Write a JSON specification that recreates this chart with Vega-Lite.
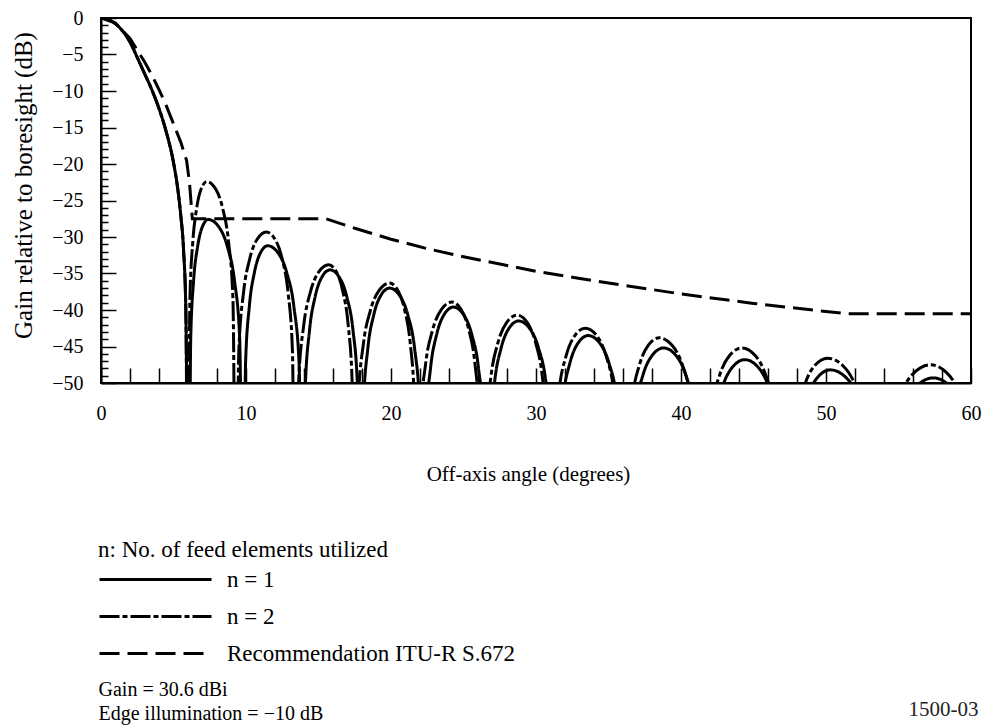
{
  "$schema": "https://vega.github.io/schema/vega-lite/v6.json",
  "width": 870,
  "height": 365,
  "autosize": {"type": "none"},
  "padding": {"left": 101, "top": 18, "right": 15, "bottom": 343},
  "background": "white",
  "config": {
    "font": "Liberation Serif",
    "view": {"stroke": "black", "strokeWidth": 2},
    "axis": {
      "labelFont": "Liberation Serif", "titleFont": "Liberation Serif",
      "labelColor": "black", "titleColor": "black", "titleFontWeight": "normal",
      "labelFontSize": 20, "titleFontSize": 21, "domainColor": "black",
      "tickColor": "black", "grid": false
    }
  },
  "datasets": {
    "patterns": [
      {"series": "n = 1", "angle": 0, "gain": 0}, {"series": "n = 1", "angle": 0.5, "gain": -0.2}, {"series": "n = 1", "angle": 1, "gain": -0.8}, {"series": "n = 1", "angle": 1.5, "gain": -1.8}, {"series": "n = 1", "angle": 2, "gain": -3.3}, {"series": "n = 1", "angle": 2.5, "gain": -5.4}, {"series": "n = 1", "angle": 3, "gain": -7.6}, {"series": "n = 1", "angle": 3.5, "gain": -9.8}, {"series": "n = 1", "angle": 4, "gain": -12.4}, {"series": "n = 1", "angle": 4.5, "gain": -15.6}, {"series": "n = 1", "angle": 5, "gain": -19.8}, {"series": "n = 1", "angle": 5.3, "gain": -23.5}, {"series": "n = 1", "angle": 5.5, "gain": -27}, {"series": "n = 1", "angle": 5.7, "gain": -32}, {"series": "n = 1", "angle": 5.85, "gain": -40}, {"series": "n = 1", "angle": 6.05, "gain": -75},
      {"series": "n = 1", "angle": 6.19, "gain": -43.7}, {"series": "n = 1", "angle": 6.39, "gain": -35.9}, {"series": "n = 1", "angle": 6.66, "gain": -31.35}, {"series": "n = 1", "angle": 6.99, "gain": -28.6}, {"series": "n = 1", "angle": 7.4, "gain": -27.6}, {"series": "n = 1", "angle": 8.12, "gain": -28.6}, {"series": "n = 1", "angle": 8.72, "gain": -31.35}, {"series": "n = 1", "angle": 9.2, "gain": -35.9}, {"series": "n = 1", "angle": 9.56, "gain": -43.7}, {"series": "n = 1", "angle": 9.8, "gain": -75},
      {"series": "n = 1", "angle": 9.97, "gain": -47.3}, {"series": "n = 1", "angle": 10.23, "gain": -39.5}, {"series": "n = 1", "angle": 10.57, "gain": -34.95}, {"series": "n = 1", "angle": 10.99, "gain": -32.2}, {"series": "n = 1", "angle": 11.5, "gain": -31.2}, {"series": "n = 1", "angle": 12.22, "gain": -32.2}, {"series": "n = 1", "angle": 12.82, "gain": -34.95}, {"series": "n = 1", "angle": 13.3, "gain": -39.5}, {"series": "n = 1", "angle": 13.66, "gain": -47.3}, {"series": "n = 1", "angle": 13.9, "gain": -75},
      {"series": "n = 1", "angle": 14.09, "gain": -50.6}, {"series": "n = 1", "angle": 14.38, "gain": -42.8}, {"series": "n = 1", "angle": 14.76, "gain": -38.25}, {"series": "n = 1", "angle": 15.23, "gain": -35.5}, {"series": "n = 1", "angle": 15.8, "gain": -34.5}, {"series": "n = 1", "angle": 16.43, "gain": -35.5}, {"series": "n = 1", "angle": 16.96, "gain": -38.25}, {"series": "n = 1", "angle": 17.38, "gain": -42.8}, {"series": "n = 1", "angle": 17.69, "gain": -50.6}, {"series": "n = 1", "angle": 17.9, "gain": -75},
      {"series": "n = 1", "angle": 18.1, "gain": -53.1}, {"series": "n = 1", "angle": 18.4, "gain": -45.3}, {"series": "n = 1", "angle": 18.8, "gain": -40.75}, {"series": "n = 1", "angle": 19.3, "gain": -38}, {"series": "n = 1", "angle": 19.9, "gain": -37}, {"series": "n = 1", "angle": 20.59, "gain": -38}, {"series": "n = 1", "angle": 21.17, "gain": -40.75}, {"series": "n = 1", "angle": 21.63, "gain": -45.3}, {"series": "n = 1", "angle": 21.97, "gain": -53.1}, {"series": "n = 1", "angle": 22.2, "gain": -75},
      {"series": "n = 1", "angle": 22.41, "gain": -55.7}, {"series": "n = 1", "angle": 22.73, "gain": -47.9}, {"series": "n = 1", "angle": 23.15, "gain": -43.35}, {"series": "n = 1", "angle": 23.67, "gain": -40.6}, {"series": "n = 1", "angle": 24.3, "gain": -39.6}, {"series": "n = 1", "angle": 24.99, "gain": -40.6}, {"series": "n = 1", "angle": 25.57, "gain": -43.35}, {"series": "n = 1", "angle": 26.03, "gain": -47.9}, {"series": "n = 1", "angle": 26.37, "gain": -55.7}, {"series": "n = 1", "angle": 26.6, "gain": -75},
      {"series": "n = 1", "angle": 26.82, "gain": -57.6}, {"series": "n = 1", "angle": 27.15, "gain": -49.8}, {"series": "n = 1", "angle": 27.59, "gain": -45.25}, {"series": "n = 1", "angle": 28.14, "gain": -42.5}, {"series": "n = 1", "angle": 28.8, "gain": -41.5}, {"series": "n = 1", "angle": 29.55, "gain": -42.5}, {"series": "n = 1", "angle": 30.18, "gain": -45.25}, {"series": "n = 1", "angle": 30.68, "gain": -49.8}, {"series": "n = 1", "angle": 31.05, "gain": -57.6}, {"series": "n = 1", "angle": 31.3, "gain": -75},
      {"series": "n = 1", "angle": 31.53, "gain": -59.6}, {"series": "n = 1", "angle": 31.88, "gain": -51.8}, {"series": "n = 1", "angle": 32.34, "gain": -47.25}, {"series": "n = 1", "angle": 32.91, "gain": -44.5}, {"series": "n = 1", "angle": 33.6, "gain": -43.5}, {"series": "n = 1", "angle": 34.38, "gain": -44.5}, {"series": "n = 1", "angle": 35.03, "gain": -47.25}, {"series": "n = 1", "angle": 35.55, "gain": -51.8}, {"series": "n = 1", "angle": 35.94, "gain": -59.6}, {"series": "n = 1", "angle": 36.2, "gain": -75},
      {"series": "n = 1", "angle": 36.46, "gain": -61.3}, {"series": "n = 1", "angle": 36.85, "gain": -53.5}, {"series": "n = 1", "angle": 37.37, "gain": -48.95}, {"series": "n = 1", "angle": 38.02, "gain": -46.2}, {"series": "n = 1", "angle": 38.8, "gain": -45.2}, {"series": "n = 1", "angle": 39.64, "gain": -46.2}, {"series": "n = 1", "angle": 40.34, "gain": -48.95}, {"series": "n = 1", "angle": 40.9, "gain": -53.5}, {"series": "n = 1", "angle": 41.32, "gain": -61.3}, {"series": "n = 1", "angle": 41.6, "gain": -75},
      {"series": "n = 1", "angle": 41.88, "gain": -62.9}, {"series": "n = 1", "angle": 42.3, "gain": -55.1}, {"series": "n = 1", "angle": 42.86, "gain": -50.55}, {"series": "n = 1", "angle": 43.56, "gain": -47.8}, {"series": "n = 1", "angle": 44.4, "gain": -46.8}, {"series": "n = 1", "angle": 45.3, "gain": -47.8}, {"series": "n = 1", "angle": 46.05, "gain": -50.55}, {"series": "n = 1", "angle": 46.65, "gain": -55.1}, {"series": "n = 1", "angle": 47.1, "gain": -62.9}, {"series": "n = 1", "angle": 47.4, "gain": -75},
      {"series": "n = 1", "angle": 47.69, "gain": -64.3}, {"series": "n = 1", "angle": 48.13, "gain": -56.5}, {"series": "n = 1", "angle": 48.71, "gain": -51.95}, {"series": "n = 1", "angle": 49.43, "gain": -49.2}, {"series": "n = 1", "angle": 50.3, "gain": -48.2}, {"series": "n = 1", "angle": 51.35, "gain": -49.2}, {"series": "n = 1", "angle": 52.23, "gain": -51.95}, {"series": "n = 1", "angle": 52.93, "gain": -56.5}, {"series": "n = 1", "angle": 53.45, "gain": -64.3}, {"series": "n = 1", "angle": 53.8, "gain": -75},
      {"series": "n = 1", "angle": 54.16, "gain": -65.4}, {"series": "n = 1", "angle": 54.7, "gain": -57.6}, {"series": "n = 1", "angle": 55.42, "gain": -53.05}, {"series": "n = 1", "angle": 56.32, "gain": -50.3}, {"series": "n = 1", "angle": 57.4, "gain": -49.3}, {"series": "n = 1", "angle": 58.48, "gain": -50.3}, {"series": "n = 1", "angle": 59.38, "gain": -53.05}, {"series": "n = 1", "angle": 59.92, "gain": -57.6},

      {"series": "n = 2", "angle": 0, "gain": 0}, {"series": "n = 2", "angle": 0.5, "gain": -0.2}, {"series": "n = 2", "angle": 1, "gain": -0.8}, {"series": "n = 2", "angle": 1.5, "gain": -1.8}, {"series": "n = 2", "angle": 2, "gain": -3.3}, {"series": "n = 2", "angle": 2.5, "gain": -5.4}, {"series": "n = 2", "angle": 3, "gain": -7.6}, {"series": "n = 2", "angle": 3.5, "gain": -9.8}, {"series": "n = 2", "angle": 4, "gain": -12.4}, {"series": "n = 2", "angle": 4.5, "gain": -15.6}, {"series": "n = 2", "angle": 5, "gain": -19.8}, {"series": "n = 2", "angle": 5.3, "gain": -23.5}, {"series": "n = 2", "angle": 5.5, "gain": -27}, {"series": "n = 2", "angle": 5.7, "gain": -32}, {"series": "n = 2", "angle": 5.85, "gain": -40}, {"series": "n = 2", "angle": 6.0, "gain": -75},
      {"series": "n = 2", "angle": 6.13, "gain": -38.5}, {"series": "n = 2", "angle": 6.33, "gain": -30.7}, {"series": "n = 2", "angle": 6.59, "gain": -26.15}, {"series": "n = 2", "angle": 6.91, "gain": -23.4}, {"series": "n = 2", "angle": 7.3, "gain": -22.4}, {"series": "n = 2", "angle": 7.9, "gain": -23.4}, {"series": "n = 2", "angle": 8.4, "gain": -26.15}, {"series": "n = 2", "angle": 8.8, "gain": -30.7}, {"series": "n = 2", "angle": 9.1, "gain": -38.5}, {"series": "n = 2", "angle": 9.3, "gain": -75},
      {"series": "n = 2", "angle": 9.51, "gain": -45.4}, {"series": "n = 2", "angle": 9.83, "gain": -37.6}, {"series": "n = 2", "angle": 10.25, "gain": -33.05}, {"series": "n = 2", "angle": 10.77, "gain": -30.3}, {"series": "n = 2", "angle": 11.4, "gain": -29.3}, {"series": "n = 2", "angle": 12.0, "gain": -30.3}, {"series": "n = 2", "angle": 12.5, "gain": -33.05}, {"series": "n = 2", "angle": 12.9, "gain": -37.6}, {"series": "n = 2", "angle": 13.2, "gain": -45.4}, {"series": "n = 2", "angle": 13.4, "gain": -75},
      {"series": "n = 2", "angle": 13.63, "gain": -49.9}, {"series": "n = 2", "angle": 13.98, "gain": -42.1}, {"series": "n = 2", "angle": 14.44, "gain": -37.55}, {"series": "n = 2", "angle": 15.01, "gain": -34.8}, {"series": "n = 2", "angle": 15.7, "gain": -33.8}, {"series": "n = 2", "angle": 16.24, "gain": -34.8}, {"series": "n = 2", "angle": 16.69, "gain": -37.55}, {"series": "n = 2", "angle": 17.05, "gain": -42.1}, {"series": "n = 2", "angle": 17.32, "gain": -49.9}, {"series": "n = 2", "angle": 17.5, "gain": -75},
      {"series": "n = 2", "angle": 17.74, "gain": -52.4}, {"series": "n = 2", "angle": 18.1, "gain": -44.6}, {"series": "n = 2", "angle": 18.58, "gain": -40.05}, {"series": "n = 2", "angle": 19.18, "gain": -37.3}, {"series": "n = 2", "angle": 19.9, "gain": -36.3}, {"series": "n = 2", "angle": 20.47, "gain": -37.3}, {"series": "n = 2", "angle": 20.95, "gain": -40.05}, {"series": "n = 2", "angle": 21.33, "gain": -44.6}, {"series": "n = 2", "angle": 21.61, "gain": -52.4}, {"series": "n = 2", "angle": 21.8, "gain": -75},
      {"series": "n = 2", "angle": 22.04, "gain": -55}, {"series": "n = 2", "angle": 22.4, "gain": -47.2}, {"series": "n = 2", "angle": 22.88, "gain": -42.65}, {"series": "n = 2", "angle": 23.48, "gain": -39.9}, {"series": "n = 2", "angle": 24.2, "gain": -38.9}, {"series": "n = 2", "angle": 24.83, "gain": -39.9}, {"series": "n = 2", "angle": 25.36, "gain": -42.65}, {"series": "n = 2", "angle": 25.78, "gain": -47.2}, {"series": "n = 2", "angle": 26.09, "gain": -55}, {"series": "n = 2", "angle": 26.3, "gain": -75},
      {"series": "n = 2", "angle": 26.54, "gain": -56.8}, {"series": "n = 2", "angle": 26.9, "gain": -49}, {"series": "n = 2", "angle": 27.38, "gain": -44.45}, {"series": "n = 2", "angle": 27.98, "gain": -41.7}, {"series": "n = 2", "angle": 28.7, "gain": -40.7}, {"series": "n = 2", "angle": 29.39, "gain": -41.7}, {"series": "n = 2", "angle": 29.97, "gain": -44.45}, {"series": "n = 2", "angle": 30.43, "gain": -49}, {"series": "n = 2", "angle": 30.77, "gain": -56.8}, {"series": "n = 2", "angle": 31.0, "gain": -75},
      {"series": "n = 2", "angle": 31.24, "gain": -58.6}, {"series": "n = 2", "angle": 31.6, "gain": -50.8}, {"series": "n = 2", "angle": 32.08, "gain": -46.25}, {"series": "n = 2", "angle": 32.68, "gain": -43.5}, {"series": "n = 2", "angle": 33.4, "gain": -42.5}, {"series": "n = 2", "angle": 34.18, "gain": -43.5}, {"series": "n = 2", "angle": 34.83, "gain": -46.25}, {"series": "n = 2", "angle": 35.35, "gain": -50.8}, {"series": "n = 2", "angle": 35.74, "gain": -58.6}, {"series": "n = 2", "angle": 36.0, "gain": -75},
      {"series": "n = 2", "angle": 36.25, "gain": -59.9}, {"series": "n = 2", "angle": 36.63, "gain": -52.1}, {"series": "n = 2", "angle": 37.13, "gain": -47.55}, {"series": "n = 2", "angle": 37.75, "gain": -44.8}, {"series": "n = 2", "angle": 38.5, "gain": -43.8}, {"series": "n = 2", "angle": 39.37, "gain": -44.8}, {"series": "n = 2", "angle": 40.1, "gain": -47.55}, {"series": "n = 2", "angle": 40.68, "gain": -52.1}, {"series": "n = 2", "angle": 41.11, "gain": -59.9}, {"series": "n = 2", "angle": 41.4, "gain": -75},
      {"series": "n = 2", "angle": 41.68, "gain": -61.3}, {"series": "n = 2", "angle": 42.1, "gain": -53.5}, {"series": "n = 2", "angle": 42.66, "gain": -48.95}, {"series": "n = 2", "angle": 43.36, "gain": -46.2}, {"series": "n = 2", "angle": 44.2, "gain": -45.2}, {"series": "n = 2", "angle": 45.1, "gain": -46.2}, {"series": "n = 2", "angle": 45.85, "gain": -48.95}, {"series": "n = 2", "angle": 46.45, "gain": -53.5}, {"series": "n = 2", "angle": 46.9, "gain": -61.3}, {"series": "n = 2", "angle": 47.2, "gain": -75},
      {"series": "n = 2", "angle": 47.49, "gain": -62.7}, {"series": "n = 2", "angle": 47.93, "gain": -54.9}, {"series": "n = 2", "angle": 48.51, "gain": -50.35}, {"series": "n = 2", "angle": 49.23, "gain": -47.6}, {"series": "n = 2", "angle": 50.1, "gain": -46.6}, {"series": "n = 2", "angle": 51.15, "gain": -47.6}, {"series": "n = 2", "angle": 52.03, "gain": -50.35}, {"series": "n = 2", "angle": 52.73, "gain": -54.9}, {"series": "n = 2", "angle": 53.25, "gain": -62.7}, {"series": "n = 2", "angle": 53.6, "gain": -75},
      {"series": "n = 2", "angle": 53.96, "gain": -63.6}, {"series": "n = 2", "angle": 54.5, "gain": -55.8}, {"series": "n = 2", "angle": 55.22, "gain": -51.25}, {"series": "n = 2", "angle": 56.12, "gain": -48.5}, {"series": "n = 2", "angle": 57.2, "gain": -47.5}, {"series": "n = 2", "angle": 58.28, "gain": -48.5}, {"series": "n = 2", "angle": 59.18, "gain": -51.25}, {"series": "n = 2", "angle": 59.9, "gain": -55.8}
    ],
    "s672": [
      {"series": "Recommendation ITU-R S.672", "angle": 0, "gain": 0},
      {"series": "Recommendation ITU-R S.672", "angle": 1, "gain": -0.7},
      {"series": "Recommendation ITU-R S.672", "angle": 2, "gain": -2.8},
      {"series": "Recommendation ITU-R S.672", "angle": 3, "gain": -6},
      {"series": "Recommendation ITU-R S.672", "angle": 3.5, "gain": -7.8},
      {"series": "Recommendation ITU-R S.672", "angle": 4, "gain": -9.8},
      {"series": "Recommendation ITU-R S.672", "angle": 4.5, "gain": -12},
      {"series": "Recommendation ITU-R S.672", "angle": 5, "gain": -14.5},
      {"series": "Recommendation ITU-R S.672", "angle": 5.5, "gain": -17},
      {"series": "Recommendation ITU-R S.672", "angle": 5.9, "gain": -19.5},
      {"series": "Recommendation ITU-R S.672", "angle": 6.1, "gain": -22.5},
      {"series": "Recommendation ITU-R S.672", "angle": 6.3, "gain": -27.5},
      {"series": "Recommendation ITU-R S.672", "angle": 15.5, "gain": -27.5},
      {"series": "Recommendation ITU-R S.672", "angle": 17.5, "gain": -28.8},
      {"series": "Recommendation ITU-R S.672", "angle": 20, "gain": -30.3},
      {"series": "Recommendation ITU-R S.672", "angle": 22.5, "gain": -31.6},
      {"series": "Recommendation ITU-R S.672", "angle": 25, "gain": -32.7},
      {"series": "Recommendation ITU-R S.672", "angle": 27.5, "gain": -33.7},
      {"series": "Recommendation ITU-R S.672", "angle": 30, "gain": -34.7},
      {"series": "Recommendation ITU-R S.672", "angle": 32.5, "gain": -35.5},
      {"series": "Recommendation ITU-R S.672", "angle": 35, "gain": -36.3},
      {"series": "Recommendation ITU-R S.672", "angle": 40, "gain": -37.8},
      {"series": "Recommendation ITU-R S.672", "angle": 45, "gain": -39.1},
      {"series": "Recommendation ITU-R S.672", "angle": 50, "gain": -40.2},
      {"series": "Recommendation ITU-R S.672", "angle": 51.5, "gain": -40.5},
      {"series": "Recommendation ITU-R S.672", "angle": 60, "gain": -40.5}
    ]
  },
  "layer": [
    {
      "data": {"name": "patterns"},
      "mark": {"type": "line", "clip": true, "strokeWidth": 3, "color": "black", "interpolate": "monotone"},
      "encoding": {
        "x": {
          "field": "angle", "type": "quantitative",
          "scale": {"domain": [0, 60], "nice": false, "zero": false},
          "axis": {
            "orient": "bottom",
            "values": [0, 2, 4, 6, 8, 10, 12, 14, 16, 18, 20, 22, 24, 26, 28, 30, 32, 34, 36, 38, 40, 42, 44, 46, 48, 50, 52, 54, 56, 58, 60],
            "labelExpr": "datum.value % 10 === 0 ? datum.label : ''",
            "tickSize": -15, "tickWidth": 1.5, "labelPadding": 35,
            "domainWidth": 2, "labelFlush": false, "labelOverlap": false, "labelBound": false,
            "title": "Off-axis angle (degrees)", "titleX": 427, "titleY": 80, "titleBaseline": "top", "titleAlign": "center"
          }
        },
        "y": {
          "field": "gain", "type": "quantitative",
          "scale": {"domain": [-50, 0], "nice": false, "zero": false},
          "axis": {
            "orient": "left",
            "values": [-50, -49, -48, -47, -46, -45, -44, -43, -42, -41, -40, -39, -38, -37, -36, -35, -34, -33, -32, -31, -30, -29, -28, -27, -26, -25, -24, -23, -22, -21, -20, -19, -18, -17, -16, -15, -14, -13, -12, -11, -10, -9, -8, -7, -6, -5, -4, -3, -2, -1, 0],
            "labelExpr": "datum.value % 5 === 0 ? datum.label : ''",
            "tickSize": {"condition": {"test": "datum.value % 5 === 0", "value": -15}, "value": -7},
            "tickWidth": 1.5, "labelPadding": 33,
            "domainWidth": 2, "labelFlush": false, "labelOverlap": false, "labelBound": false,
            "title": "Gain relative to boresight (dB)", "titleFontSize": 25, "titleX": -78, "titleY": 167, "titleBaseline": "middle", "titleAlign": "center", "titleAngle": -90
          }
        },
        "strokeDash": {
          "field": "series", "type": "nominal",
          "scale": {"domain": ["n = 1", "n = 2", "Recommendation ITU-R S.672"], "range": [[1, 0], [20, 3, 5, 3], [20, 8]]},
          "legend": {
            "title": "n: No. of feed elements utilized",
            "orient": "none", "legendX": -3, "legendY": 521, "direction": "vertical",
            "symbolType": "stroke", "symbolSize": 12544, "symbolStrokeWidth": 3, "symbolStrokeColor": "black",
            "labelFont": "Liberation Serif", "labelFontSize": 23, "labelColor": "black", "labelOffset": 14, "labelLimit": 600,
            "titleFont": "Liberation Serif", "titleFontSize": 23, "titleFontWeight": "normal", "titleColor": "black", "titleLimit": 600,
            "clipHeight": 35, "titlePadding": 0, "rowPadding": 2, "padding": 0
          }
        }
      }
    },
    {
      "data": {"name": "s672"},
      "mark": {"type": "line", "clip": true, "strokeWidth": 3, "color": "black"},
      "encoding": {
        "x": {
          "field": "angle", "type": "quantitative",
          "axis": {
            "orient": "bottom", "domain": false, "ticks": false, "labels": false, "grid": false,
            "title": ["Gain = 30.6 dBi", "Edge illumination = −10 dB"],
            "titleX": -3, "titleY": 296, "titleAlign": "left", "titleBaseline": "top", "titleFontSize": 20, "titleLineHeight": 24
          }
        },
        "y": {
          "field": "gain", "type": "quantitative",
          "axis": {
            "orient": "right", "domain": false, "ticks": false, "labels": false, "grid": false,
            "title": "1500-03", "titleAngle": 0, "titleX": 7, "titleY": 691, "titleAlign": "right", "titleBaseline": "middle", "titleFontSize": 21, "titleColor": "#222222"
          }
        },
        "strokeDash": {"field": "series", "type": "nominal"}
      }
    }
  ],
  "resolve": {"axis": {"x": "independent", "y": "independent"}}
}
